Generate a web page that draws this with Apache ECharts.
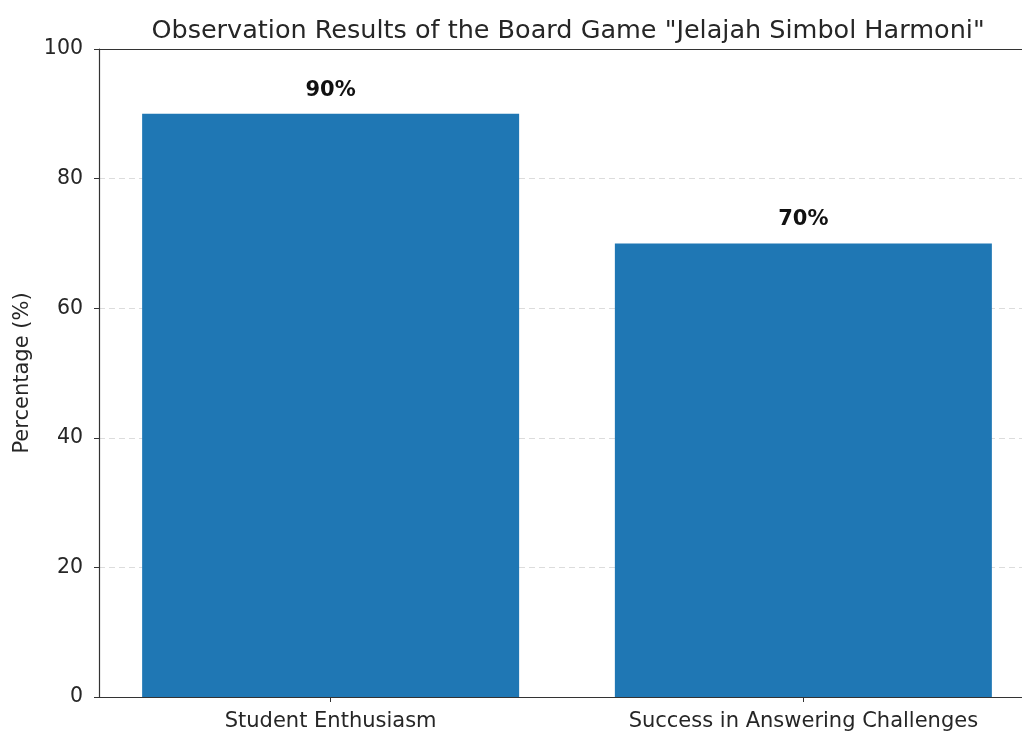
<!DOCTYPE html>
<html>
<head>
<meta charset="utf-8">
<title>Observation Results</title>
<script src="https://cdn.jsdelivr.net/npm/echarts@6/dist/echarts.min.js"></script>
<style>
  html, body { margin: 0; padding: 0; background: #ffffff; }
  #chart { width: 1022px; height: 733px; }
</style>
</head>
<body>
<div id="chart"></div>
<script>
// Chart data
const categories = ['Student Enthusiasm', 'Success in Answering Challenges'];
const percentages = [90, 70];
const yTicks = [0, 20, 40, 60, 80, 100];

const FONT = '"DejaVu Sans", "Liberation Sans", sans-serif';
const INK = '#262626';
const SPINE = '#333333';

// bars placed at positions 0, 1 on a numeric x scale (matplotlib-like margins)
const barData = percentages.map((v, i) => [i, v]);
const xMin = -0.49, xMax = 1.49;

const chart = echarts.init(document.getElementById('chart'), null, { renderer: 'canvas' });

chart.setOption({
  animation: false,
  backgroundColor: '#ffffff',
  title: {
    text: 'Observation Results of the Board Game "Jelajah Simbol Harmoni"',
    left: 563,
    textAlign: 'center',
    top: 13,
    textStyle: { fontFamily: FONT, fontSize: 25.5, fontWeight: 'normal', color: INK }
  },
  grid: {
    left: 99, width: 936, top: 49, bottom: 36,
    outerBoundsMode: 'none',
    containLabel: false
  },
  xAxis: [{
    type: 'value',
    min: xMin,
    max: xMax,
    splitLine: { show: false },
    axisLine: { show: true, onZero: false, lineStyle: { color: SPINE, width: 1.2 } },
    axisTick: { show: true, customValues: [0, 1], length: 5, lineStyle: { color: SPINE } },
    axisLabel: {
      customValues: [0, 1],
      formatter: v => categories[Math.round(v)],
      fontFamily: FONT, fontSize: 21, color: INK, margin: 14
    }
  }, {
    // top spine
    type: 'value',
    position: 'top',
    min: xMin,
    max: xMax,
    splitLine: { show: false },
    axisLine: { show: true, onZero: false, lineStyle: { color: SPINE, width: 1.2 } },
    axisTick: { show: false },
    axisLabel: { show: false }
  }],
  yAxis: {
    type: 'value',
    min: yTicks[0],
    max: yTicks[yTicks.length - 1],
    interval: 20,
    name: 'Percentage (%)',
    nameLocation: 'middle',
    nameRotate: 90,
    nameGap: 62,
    nameTextStyle: { fontFamily: FONT, fontSize: 21, color: INK },
    axisLine: { show: true, onZero: false, lineStyle: { color: SPINE, width: 1.2 } },
    axisTick: { show: true, length: 5, lineStyle: { color: SPINE } },
    axisLabel: { fontFamily: FONT, fontSize: 20.5, color: INK, margin: 16 },
    splitLine: { show: true, lineStyle: { color: '#dcdcdc', type: [6, 4], width: 1 } }
  },
  series: [{
    type: 'bar',
    xAxisIndex: 0,
    data: barData,
    barWidth: 377,
    itemStyle: { color: '#1f77b4' },
    label: {
      show: true,
      position: 'top',
      distance: 13,
      formatter: p => p.value[1] + '%',
      fontFamily: FONT, fontSize: 21, fontWeight: 'bold', color: '#111111'
    }
  }]
});
</script>
</body>
</html>
